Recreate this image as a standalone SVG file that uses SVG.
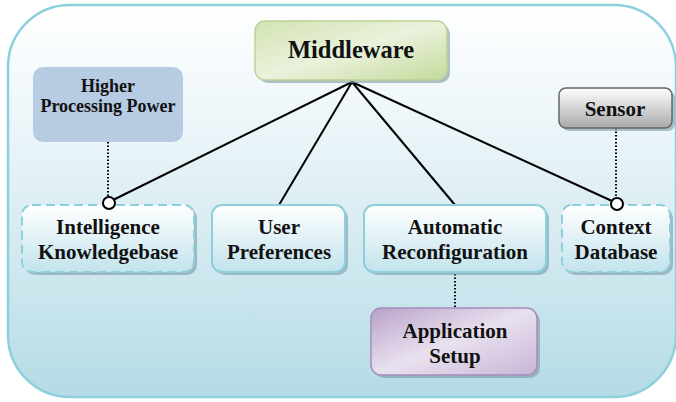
<svg xmlns="http://www.w3.org/2000/svg" width="676" height="402" viewBox="0 0 676 402">
  <defs>
    <linearGradient id="gBg" x1="0" y1="0" x2="0" y2="1">
      <stop offset="0" stop-color="#ffffff"/>
      <stop offset="0.35" stop-color="#e9f4f8"/>
      <stop offset="1" stop-color="#b5dbe5"/>
    </linearGradient>
    <linearGradient id="gBox" x1="0" y1="0" x2="0" y2="1">
      <stop offset="0" stop-color="#ffffff"/>
      <stop offset="1" stop-color="#c2e3ec"/>
    </linearGradient>
    <linearGradient id="gGreen" x1="0" y1="0" x2="1" y2="1">
      <stop offset="0" stop-color="#d3e3b3"/>
      <stop offset="0.5" stop-color="#eaf2dc"/>
      <stop offset="1" stop-color="#c5d99c"/>
    </linearGradient>
    <linearGradient id="gGray" x1="0" y1="0" x2="0" y2="1">
      <stop offset="0" stop-color="#ffffff"/>
      <stop offset="1" stop-color="#a9a9a9"/>
    </linearGradient>
    <linearGradient id="gPurple" x1="0" y1="0" x2="1" y2="1">
      <stop offset="0" stop-color="#b9a2ca"/>
      <stop offset="0.5" stop-color="#e9e1ef"/>
      <stop offset="1" stop-color="#c8b5d6"/>
    </linearGradient>
    <style>
      text { font-family: "Liberation Serif", "Times New Roman", serif; font-weight: bold; fill: #111; text-anchor: middle; }
      .shadow { fill: #7d9aa6; opacity: 0.6; }
      .box { fill: url(#gBox); stroke: #8ccfdd; stroke-width: 2; }
      .dash { stroke-dasharray: 9 5; }
      .link { stroke: #000; stroke-width: 2; fill: none; }
      .dot { stroke: #000; stroke-width: 2; stroke-dasharray: 1.5 2; fill: none; }
      .knob { fill: #fff; stroke: #000; stroke-width: 2; }
      .lbl { font-size: 21px; }
    </style>
  </defs>

  <!-- container -->
  <rect x="8" y="5" width="668" height="392" rx="62" fill="url(#gBg)" stroke="#8ccfdd" stroke-width="2.5"/>

  <!-- connectors -->
  <g id="connectors">
    <line class="link" x1="352" y1="82" x2="113" y2="200"/>
    <line class="link" x1="352" y1="82" x2="279" y2="205"/>
    <line class="link" x1="352" y1="82" x2="455" y2="205"/>
    <line class="link" x1="352" y1="82" x2="612" y2="201"/>
    <line class="dot" x1="108" y1="142" x2="108" y2="198"/>
    <line class="dot" x1="616" y1="128" x2="616" y2="198"/>
    <line class="dot" x1="455" y1="274" x2="455" y2="308"/>
  </g>

  <g id="middleware">
    <rect class="shadow" x="258" y="24" width="192" height="59" rx="10"/>
    <rect x="255" y="21" width="192" height="59" rx="10" fill="url(#gGreen)" stroke="#bcd296" stroke-width="1.5"/>
    <text x="351" y="58" font-size="24.5">Middleware</text>
  </g>

  <g id="higher-processing-power">
    <rect x="33" y="67" width="150" height="75" rx="10" fill="#b7cbe3"/>
    <text x="108" y="92" font-size="18">Higher</text>
    <text x="108" y="112" font-size="18">Processing Power</text>
  </g>

  <g id="sensor">
    <rect class="shadow" x="562" y="91" width="113" height="40" rx="7"/>
    <rect x="559" y="88" width="113" height="40" rx="7" fill="url(#gGray)" stroke="#666" stroke-width="1.5"/>
    <text x="615" y="116" class="lbl">Sensor</text>
  </g>

  <g id="intelligence-knowledgebase">
    <rect class="shadow" x="25" y="208" width="172" height="67" rx="10"/>
    <rect class="box dash" x="22" y="205" width="172" height="67" rx="10"/>
    <text x="108" y="234" class="lbl">Intelligence</text>
    <text x="108" y="259" class="lbl">Knowledgebase</text>
  </g>

  <g id="user-preferences">
    <rect class="shadow" x="215" y="208" width="133" height="67" rx="10"/>
    <rect class="box" x="212" y="205" width="133" height="67" rx="10"/>
    <text x="279" y="234" class="lbl">User</text>
    <text x="279" y="259" class="lbl">Preferences</text>
  </g>

  <g id="automatic-reconfiguration">
    <rect class="shadow" x="367" y="208" width="182" height="67" rx="10"/>
    <rect class="box" x="364" y="205" width="182" height="67" rx="10"/>
    <text x="455" y="234" class="lbl">Automatic</text>
    <text x="455" y="259" class="lbl">Reconfiguration</text>
  </g>

  <g id="context-database">
    <rect class="shadow" x="565" y="208" width="108" height="67" rx="10"/>
    <rect class="box dash" x="562" y="205" width="108" height="67" rx="10"/>
    <text x="616" y="234" class="lbl">Context</text>
    <text x="616" y="259" class="lbl">Database</text>
  </g>

  <g id="application-setup">
    <rect class="shadow" x="374" y="311" width="166" height="67" rx="10"/>
    <rect x="371" y="308" width="166" height="67" rx="10" fill="url(#gPurple)" stroke="#a58dbb" stroke-width="1.5"/>
    <text x="455" y="338" class="lbl">Application</text>
    <text x="455" y="363" class="lbl">Setup</text>
  </g>

  <!-- open knobs where links meet dotted lines -->
  <circle class="knob" cx="109" cy="203" r="6"/>
  <circle class="knob" cx="617" cy="204" r="6"/>
</svg>
